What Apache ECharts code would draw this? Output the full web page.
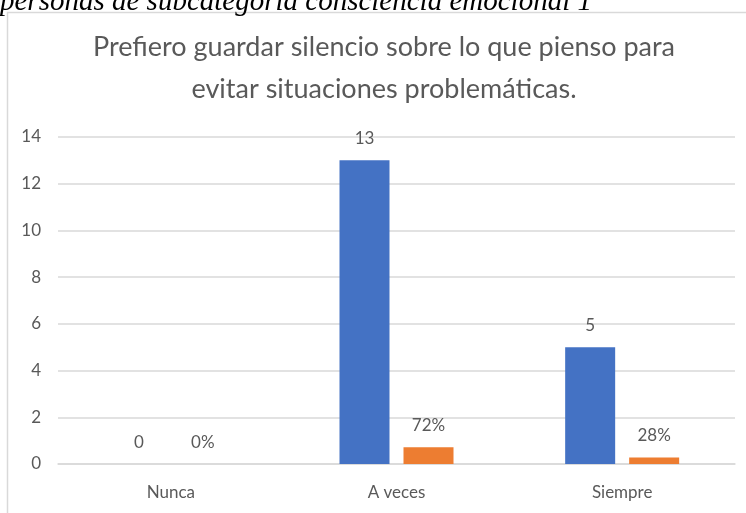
<!DOCTYPE html>
<html>
<head>
<meta charset="utf-8">
<script src="https://cdn.jsdelivr.net/npm/echarts@6/dist/echarts.min.js"></script>
<style>
  html, body { margin: 0; padding: 0; background: #fff; }
  #main { width: 746px; height: 513px; }
</style>
</head>
<body>
<div id="main"></div>
<script>
const categories = ['Nunca', 'A veces', 'Siempre']
const counts = [0, 13, 5]
const shares = [0, 0.72, 0.28]
const yTicks = { min: 0, max: 14, interval: 2 }

const chart = echarts.init(document.getElementById('main'))
const font = 'Lato, "Open Sans", sans-serif'
const grey = '#595959'

chart.setOption({
  animation: false,
  graphic: [
    {
      type: 'rect',
      shape: { x: 7.5, y: 12.5, width: 800, height: 600 },
      style: { fill: 'none', stroke: '#d9d9d9', lineWidth: 1.5 },
      silent: true
    },
    {
      type: 'text',
      style: {
        text: 'personas de subcategoría consciencia emocional 1',
        x: 0, y: 17,
        verticalAlign: 'bottom',
        font: 'italic 29px "Liberation Serif", "DejaVu Serif", serif',
        fill: '#000'
      }
    },
    {
      type: 'text',
      style: {
        text: 'Prefiero guardar silencio sobre lo que pienso para\nevitar situaciones problemáticas.',
        x: 384, y: 26,
        align: 'center',
        verticalAlign: 'top',
        lineHeight: 42,
        font: '27px ' + font,
        fill: grey
      }
    }
  ],
  grid: { left: 58, right: 11, top: 137, bottom: 49 },
  xAxis: {
    type: 'category',
    data: categories,
    axisLine: { lineStyle: { color: '#d9d9d9', width: 1.5 } },
    axisTick: { show: false },
    axisLabel: { color: grey, fontSize: 17, fontFamily: font, margin: 20 }
  },
  yAxis: {
    type: 'value',
    min: yTicks.min,
    max: yTicks.max,
    interval: yTicks.interval,
    axisLine: { show: false },
    axisTick: { show: false },
    splitLine: { lineStyle: { color: '#d9d9d9', width: 1.5 } },
    axisLabel: { color: grey, fontSize: 17, fontFamily: font, margin: 17 }
  },
  series: [
    {
      type: 'bar',
      data: counts,
      barWidth: 50,
      barGap: '28%',
      itemStyle: { color: '#4472C4' },
      label: { show: true, position: 'top', distance: 13, color: grey, fontSize: 17, fontFamily: font }
    },
    {
      type: 'bar',
      data: shares,
      barWidth: 50,
      itemStyle: { color: '#ED7D31' },
      label: {
        show: true, position: 'top', distance: 13, color: grey, fontSize: 17, fontFamily: font,
        formatter: (p) => Math.round(p.value * 100) + '%'
      }
    }
  ]
})
</script>
</body>
</html>
